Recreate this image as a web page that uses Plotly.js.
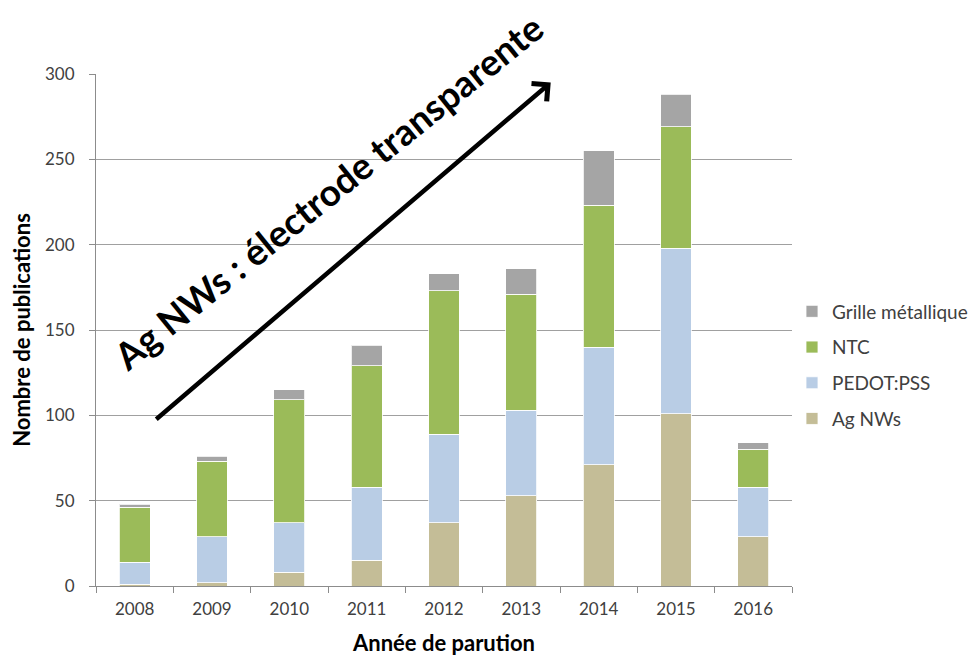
<!DOCTYPE html>
<html>
<head>
<meta charset="utf-8">
<script src="https://cdn.plot.ly/plotly-3.0.1.min.js"></script>
<style>html,body{margin:0;padding:0;background:#fff;}#chart{width:972px;height:657px;}</style>
</head>
<body>
<div id="chart"></div>
<script>
var years = ['2008','2009','2010','2011','2012','2013','2014','2015','2016'];
var agNWs   = [1, 2, 8, 15, 37, 53, 71, 101, 29];
var pedot   = [13, 27, 29, 43, 52, 50, 69, 97, 29];
var ntc     = [32, 44, 72, 71, 84, 68, 83, 71, 22];
var grille  = [2, 3, 6, 12, 10, 15, 32, 19, 4];
var seriesNames = ['Ag NWs', 'PEDOT:PSS', 'NTC', 'Grille métallique'];
var seriesColors = ['#C4BD97', '#B9CDE5', '#9BBB59', '#A5A5A5'];
var seriesData = [agNWs, pedot, ntc, grille];

var FONT = 'Lato, "Open Sans", sans-serif';

var traces = seriesData.map(function (vals, i) {
  return {
    type: 'bar',
    x: years,
    y: vals,
    name: seriesNames[i],
    legendgroup: 'g' + i,
    legendrank: 10 - i,
    marker: {color: seriesColors[i], line: {color: 'rgba(255,255,255,0.8)', width: 1}},
    hoverinfo: 'x+y+name'
  };
});

var layout = {
  width: 972,
  height: 657,
  margin: {l: 96, r: 179, t: 74, b: 71},
  paper_bgcolor: '#ffffff',
  plot_bgcolor: '#ffffff',
  barmode: 'stack',
  bargap: 0.6,
  font: {family: FONT, color: '#404040', size: 17},
  showlegend: true,
  legend: {
    xref: 'container', yref: 'container',
    x: 792 / 972, xanchor: 'left',
    y: 1 - 365 / 657, yanchor: 'middle',
    traceorder: 'grouped',
    tracegroupgap: 8,
    font: {family: FONT, size: 19, color: '#404040'},
    itemwidth: 30
  },
  xaxis: {
    type: 'category',
    showgrid: false,
    showline: true,
    linecolor: '#8c8c8c',
    linewidth: 1,
    ticks: 'outside',
    tickson: 'boundaries',
    ticklen: 6,
    tickcolor: '#8c8c8c',
    ticklabelstandoff: 8,
    tickfont: {family: FONT, size: 17, color: '#404040'},
    title: {text: 'Année de parution', font: {family: FONT, size: 22, color: '#000000', weight: 'bold'}, standoff: 17},
    zeroline: false
  },
  yaxis: {
    range: [0, 300],
    dtick: 50,
    showgrid: true,
    gridcolor: '#a0a0a0',
    gridwidth: 1,
    showline: true,
    linecolor: '#8c8c8c',
    ticks: 'outside',
    ticklen: 6,
    tickcolor: '#8c8c8c',
    ticklabelstandoff: 11,
    tickfont: {family: FONT, size: 17, color: '#404040'},
    title: {text: 'Nombre de publications', font: {family: FONT, size: 22, color: '#000000', weight: 'bold'}, standoff: 8},
    zeroline: false
  },
  annotations: [
    {
      xref: 'x', yref: 'y', axref: 'x', ayref: 'y',
      x: 5.38, y: 295,
      ax: 0.26, ay: 97,
      text: '',
      showarrow: true,
      arrowhead: 4,
      arrowsize: 1,
      arrowwidth: 4.5,
      arrowcolor: '#000000'
    },
    {
      xref: 'paper', yref: 'paper',
      x: (328 - 96) / 697, y: (586 - 191) / 512,
      xanchor: 'center', yanchor: 'middle',
      text: 'Ag NWs : électrode transparente',
      textangle: -39,
      showarrow: false,
      font: {family: FONT, size: 37, color: '#000000', weight: 'bold'}
    }
  ]
};

Plotly.newPlot('chart', traces, layout, {displayModeBar: false, responsive: false});
</script>
</body>
</html>
